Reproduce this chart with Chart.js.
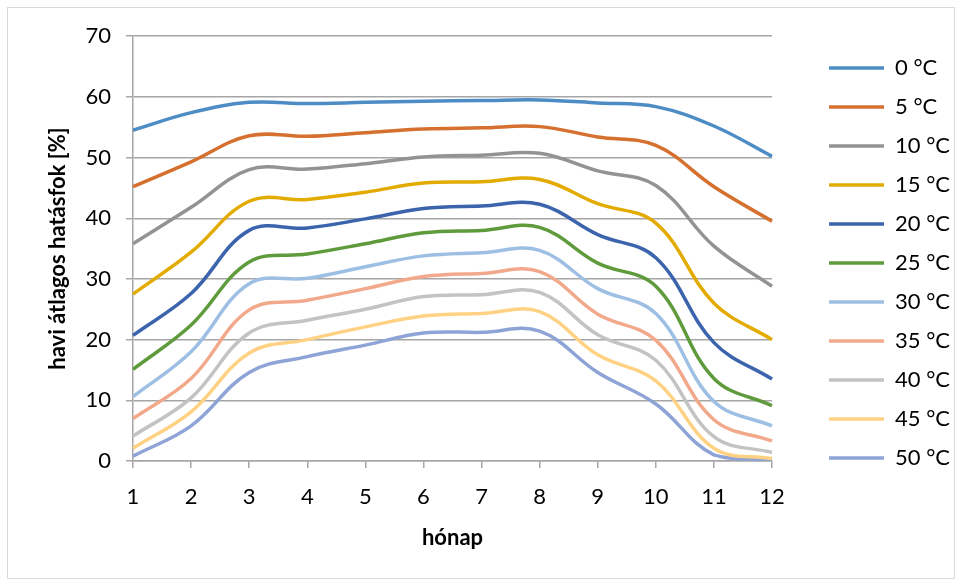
<html lang="hu">
<head>
    <meta charset="UTF-8">
    <title>Havi átlagos hatásfok</title>
    <script src="https://cdn.jsdelivr.net/npm/chart.js"></script>
    <style>
        body { margin: 0; background: #fff; }
        .wrap { position: absolute; left: 7px; top: 7px; width: 946px; height: 570px; border: 1px solid #d9d9d9; }
    </style>
</head>
<body>
<div class="wrap">
    <canvas id="hatasfokChart" width="946" height="570"></canvas>
</div>

<script>
    // hónapok és hőmérsékletek
    const months = ['1', '2', '3', '4', '5', '6', '7', '8', '9', '10', '11', '12'];
    const temps = ['0 °C', '5 °C', '10 °C', '15 °C', '20 °C', '25 °C', '30 °C', '35 °C', '40 °C', '45 °C', '50 °C'];
    const colors = ['#4e8cc6', '#d5702f', '#939393', '#e3ab00', '#3b64ad', '#5f9b3d', '#9ebfe4', '#f2a98b', '#c3c3c3', '#ffd283', '#8ea4d6'];

    // havi átlagos hatásfok [%] (leolvasott értékek)
    const t0  = [54.5, 57.4, 59.1, 58.9, 59.1, 59.3, 59.4, 59.5, 59.0, 58.4, 55.2, 50.2];
    const t5  = [45.2, 49.3, 53.6, 53.5, 54.1, 54.7, 54.9, 55.1, 53.4, 52.0, 45.2, 39.5];
    const t10 = [35.8, 41.8, 48.0, 48.1, 49.0, 50.1, 50.4, 50.7, 47.8, 45.4, 35.4, 28.8];
    const t15 = [27.5, 34.4, 42.8, 43.1, 44.3, 45.8, 46.0, 46.4, 42.4, 39.2, 26.0, 20.0];
    const t20 = [20.7, 27.6, 38.0, 38.4, 39.9, 41.6, 42.0, 42.3, 37.3, 33.5, 19.5, 13.5];
    const t25 = [15.1, 22.4, 32.8, 34.1, 35.8, 37.6, 38.0, 38.5, 32.6, 28.8, 13.6, 9.1];
    const t30 = [10.6, 18.0, 29.2, 30.1, 32.0, 33.8, 34.3, 34.7, 28.4, 24.3, 9.8, 5.8];
    const t35 = [7.0, 13.6, 24.9, 26.5, 28.4, 30.4, 30.9, 31.2, 24.2, 19.9, 6.8, 3.3];
    const t40 = [4.1, 10.4, 21.1, 23.2, 25.0, 27.1, 27.4, 27.8, 20.8, 16.6, 4.0, 1.4];
    const t45 = [2.1, 8.1, 17.8, 20.0, 22.1, 23.9, 24.3, 24.6, 17.5, 13.2, 2.1, 0.4];
    const t50 = [0.8, 5.8, 14.6, 17.2, 19.1, 21.1, 21.2, 21.4, 14.6, 9.4, 1.0, 0.2];
    const series = [t0, t5, t10, t15, t20, t25, t30, t35, t40, t45, t50];

    const yTicks = [0, 10, 20, 30, 40, 50, 60, 70];

    const fontFamily = 'Lato, "Open Sans", sans-serif';
    const gridColor = '#a6a6a6';

    const datasets = series.map(function (values, i) {
        return {
            label: temps[i],
            data: values,
            borderColor: colors[i],
            backgroundColor: colors[i],
            borderWidth: 3.5,
            pointRadius: 0,
            tension: 0.38,
            fill: false
        };
    });

    // a jelmagyarázatot kicsit jobbra/lejjebb toljuk, mint az eredetin
    const legendShift = {
        id: 'legendShift',
        afterLayout: function (chart) {
            const lg = chart.legend;
            if (!lg) return;
            lg.left += 40;
            lg.right += 40;
            lg.top += 7;
            lg.bottom += 7;
        }
    };

    const config = {
        type: 'line',
        data: { labels: months, datasets: datasets },
        options: {
            responsive: false,
            animation: false,
            layout: { padding: { left: 37, top: 25, right: 34, bottom: 27 } },
            plugins: {
                tooltip: { enabled: false },
                legend: {
                    position: 'right',
                    align: 'start',
                    labels: {
                        usePointStyle: true,
                        pointStyle: 'line',
                        pointStyleWidth: 55,
                        padding: 17,
                        color: '#000',
                        font: { family: fontFamily, size: 22 }
                    }
                }
            },
            scales: {
                x: {
                    type: 'category',
                    offset: false,
                    afterFit: function (scale) { scale.height = 90; },
                    grid: { display: true, drawOnChartArea: false, drawTicks: true, tickLength: 7, color: gridColor, lineWidth: 1.5 },
                    border: { color: gridColor, width: 1.5 },
                    ticks: { color: '#000', padding: 16, font: { family: fontFamily, size: 22 }, maxRotation: 0 },
                    title: { display: true, text: 'hónap', color: '#000', padding: { top: 10, bottom: 0 }, font: { family: fontFamily, size: 22, weight: 'bold' } }
                },
                y: {
                    min: 0,
                    max: 70,
                    afterFit: function (scale) { scale.width = 88; },
                    afterBuildTicks: function (axis) {
                        axis.ticks = yTicks.map(function (v) { return { value: v }; });
                    },
                    grid: { color: gridColor, lineWidth: 1.5, tickLength: 7 },
                    border: { color: gridColor, width: 1.5 },
                    ticks: { color: '#000', padding: 15, font: { family: fontFamily, size: 22 } },
                    title: { display: true, text: 'havi átlagos hatásfok [%]', color: '#000', padding: { top: 0, bottom: 8 }, font: { family: fontFamily, size: 22, weight: 'bold' } }
                }
            }
        },
        plugins: [legendShift]
    };

    const ctx = document.getElementById('hatasfokChart').getContext('2d');
    const chart = new Chart(ctx, config);
</script>
</body>
</html>
